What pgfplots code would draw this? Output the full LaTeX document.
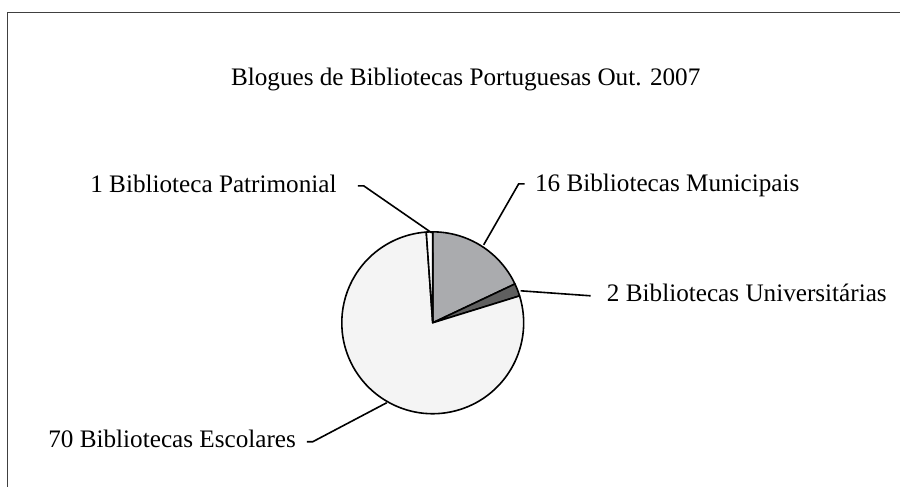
\documentclass[border=0pt]{standalone}
\usepackage{pgfplots}
\pgfplotsset{compat=1.18}
\usepackage{pgfplotstable}
\usepackage{fontspec}
\setmainfont{Liberation Serif}

\definecolor{muni}{RGB}{170,171,174}
\definecolor{univ}{RGB}{95,95,95}
\definecolor{escol}{RGB}{244,244,244}
\definecolor{patri}{RGB}{255,255,255}

% Blogues por tipo de biblioteca (ordem dos sectores, a partir do topo, sentido horario)
\pgfplotstableread{
value
16
2
70
1
}\pietable

\newcommand\getv[2]{\pgfplotstablegetelem{#1}{value}\of\pietable\let#2\pgfplotsretval}
% sector: angulo inicial, angulo final, cor
\newcommand\slice[3]{%
  \filldraw[fill=#3, draw=black, line width=0.8pt, line join=round]
    (axis cs:433,323) -- ++(#1:45.5pt) arc[start angle=#1, end angle=#2, radius=45.5pt] -- cycle;}

\tikzset{lbl/.style={font=\fontsize{12.6}{14}\selectfont, inner sep=0pt}}

\begin{document}
\begin{tikzpicture}
\getv{0}\vA \getv{1}\vB \getv{2}\vC \getv{3}\vD
\pgfmathsetmacro\tot{\vA+\vB+\vC+\vD}
\pgfmathsetmacro\aA{90}
\pgfmathsetmacro\aB{\aA-\vA/\tot*360}
\pgfmathsetmacro\aC{\aB-\vB/\tot*360}
\pgfmathsetmacro\aD{\aC-\vC/\tot*360}
\pgfmathsetmacro\aE{\aD-\vD/\tot*360}
\begin{axis}[
    width=450.5pt, height=243.5pt, scale only axis,
    xmin=0, xmax=901, ymin=0, ymax=487, y dir=reverse,
    hide axis, clip=false
]
\path (axis cs:0,0) -- (axis cs:901,487);
% moldura
\draw[line width=0.6pt, black!75] (axis cs:7.5,487) -- (axis cs:7.5,12.5) -- (axis cs:901,12.5);

\node[lbl, anchor=base] at (axis cs:466,86) {Blogues de Bibliotecas Portuguesas Out. 2007};

\slice{\aA}{\aB}{muni}
\slice{\aB}{\aC}{univ}
\slice{\aC}{\aD}{escol}
\slice{\aD}{\aE}{patri}

% linhas de chamada
\draw[line width=0.8pt] (axis cs:358,186) -- (axis cs:364,186) -- (axis cs:432,233);
\draw[line width=0.8pt] (axis cs:484,245) -- (axis cs:519,184) -- (axis cs:525,184);
\draw[line width=0.8pt] (axis cs:521,291) -- (axis cs:591,296);
\draw[line width=0.8pt] (axis cs:387,403) -- (axis cs:313,442) -- (axis cs:307,442);

\node[lbl, anchor=base west] at (axis cs:90,193) {1 Biblioteca Patrimonial};
\node[lbl, anchor=base west] at (axis cs:535,192) {16 Bibliotecas Municipais};
\node[lbl, anchor=base west] at (axis cs:607,302) {2 Bibliotecas Universitárias};
\node[lbl, anchor=base west] at (axis cs:48,448) {70 Bibliotecas Escolares};
\end{axis}
\end{tikzpicture}
\end{document}
